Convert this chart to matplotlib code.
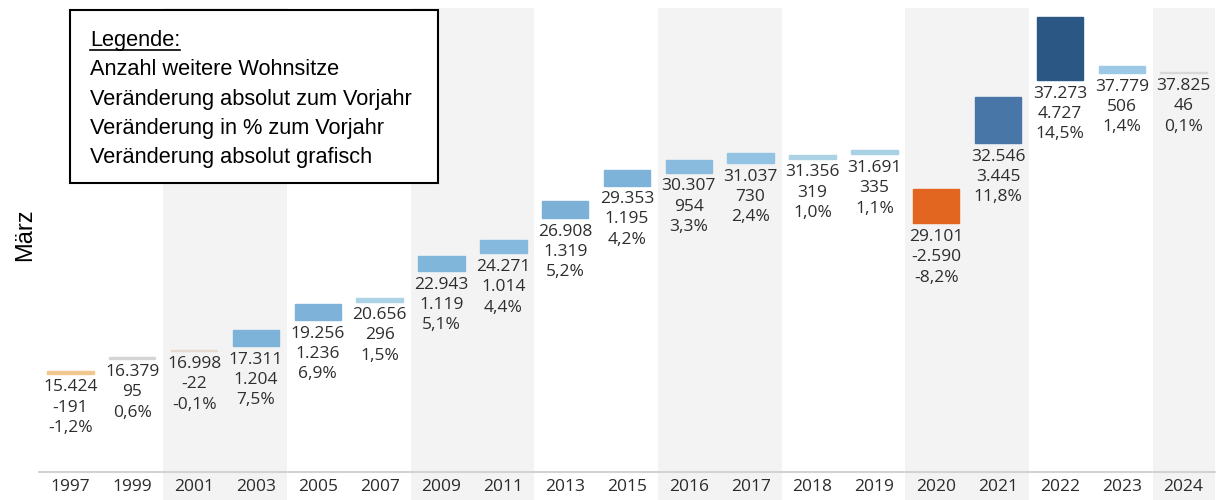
import matplotlib
matplotlib.use("Agg")
import matplotlib.pyplot as plt
from matplotlib.colors import LinearSegmentedColormap
from matplotlib.patches import Rectangle
from matplotlib.lines import Line2D

# data (Stand jeweils März)
years = ['1997', '1999', '2001', '2003', '2005', '2007', '2009', '2011', '2013', '2015',
         '2016', '2017', '2018', '2019', '2020', '2021', '2022', '2023', '2024']
values = [15424, 16379, 16998, 17311, 19256, 20656, 22943, 24271, 26908, 29353,
          30307, 31037, 31356, 31691, 29101, 32546, 37273, 37779, 37825]
changes = [-191, 95, -22, 1204, 1236, 296, 1119, 1014, 1319, 1195,
           954, 730, 319, 335, -2590, 3445, 4727, 506, 46]
pcts = ['-1,2%', '0,6%', '-0,1%', '7,5%', '6,9%', '1,5%', '5,1%', '4,4%', '5,2%', '4,2%',
        '3,3%', '2,4%', '1,0%', '1,1%', '-8,2%', '11,8%', '14,5%', '1,4%', '0,1%']

legend_lines = ['Anzahl weitere Wohnsitze',
                'Veränderung absolut zum Vorjahr',
                'Veränderung in % zum Vorjahr',
                'Veränderung absolut grafisch']


def de(n):
    return f"{n:,}".replace(',', '.')


# orange-blue diverging scale (roughly like tableau)
maxc = max(abs(c) for c in changes)
anchors = [(-1.0, '#b24a12'), (-0.548, '#e3661f'), (-0.04, '#f0c890'), (-0.005, '#e8dccc'),
           (0.0, '#dcdcdc'), (0.02, '#d4d6d6'), (0.063, '#add3e6'), (0.107, '#9ccae6'),
           (0.2, '#88bbde'), (0.25, '#7fb4da'), (0.729, '#4878a8'), (1.0, '#2a5783')]
cmap = LinearSegmentedColormap.from_list('ob', [((t + 1) / 2, c) for t, c in anchors])
colors = [cmap((c / maxc + 1) / 2) for c in changes]

W, H = 1221, 500
fig = plt.figure(figsize=(W / 100, H / 100), dpi=100)
ax = fig.add_axes([39.5 / W, 28 / H, 1175 / W, 464 / H])

x = list(range(len(years)))
ax.set_xlim(-0.5, len(years) - 0.5)
ax.set_ylim(7871, 42671)

# grey bands, two columns each
for i in x:
    if (i // 2) % 2 == 1:
        ax.axvspan(i - 0.5, i + 0.5, ymin=-28 / 464, ymax=1, color='#f3f3f3', lw=0,
                   zorder=0, clip_on=False)

ax.bar(x, changes, bottom=values, width=0.75, color=colors, edgecolor=colors,
       linewidth=1.0, zorder=2)

for i in x:
    y0 = min(values[i], values[i] + changes[i])
    txt = de(values[i]) + '\n' + de(changes[i]) + '\n' + pcts[i]
    ax.annotate(txt, (i, y0), xytext=(0, -4), textcoords='offset points',
                ha='center', va='top', fontsize=12.5, family='Open Sans',
                color='#2e2e2e', linespacing=1.36, zorder=3)

for s in ['top', 'right', 'left']:
    ax.spines[s].set_visible(False)
ax.spines['bottom'].set_color('#d3d3d3')
ax.spines['bottom'].set_linewidth(1.5)
ax.set_yticks([])
ax.set_xticks(x)
ax.set_xticklabels(years, fontsize=12.5, family='Open Sans', color='#2b2b2b')
ax.tick_params(axis='x', length=0, pad=5)
ax.patch.set_alpha(0)

fig.text(25 / W, 1 - 235 / H, 'März', rotation=90, ha='center', va='center',
         fontsize=17, family='Liberation Sans', color='black')

# legend box
fig.patches.append(Rectangle((70 / W, 1 - 183 / H), 368 / W, 173 / H,
                             transform=fig.transFigure, facecolor='white',
                             edgecolor='black', lw=1.5, zorder=5))
t = fig.text(90 / W, 1 - 46 / H, 'Legende:', fontsize=15.7, family='Liberation Sans',
             va='baseline', zorder=6)
for k, line in enumerate(legend_lines):
    fig.text(90 / W, 1 - (75 + 29.5 * k) / H, line, fontsize=15.7, family='Liberation Sans',
             va='baseline', zorder=6)

fig.canvas.draw()
bb = t.get_window_extent()
fig.lines.append(Line2D([bb.x0 / W, bb.x1 / W], [1 - 50 / H, 1 - 50 / H],
                        transform=fig.transFigure, color='black', lw=1.2, zorder=6))

fig.savefig('out.png', dpi=100)
